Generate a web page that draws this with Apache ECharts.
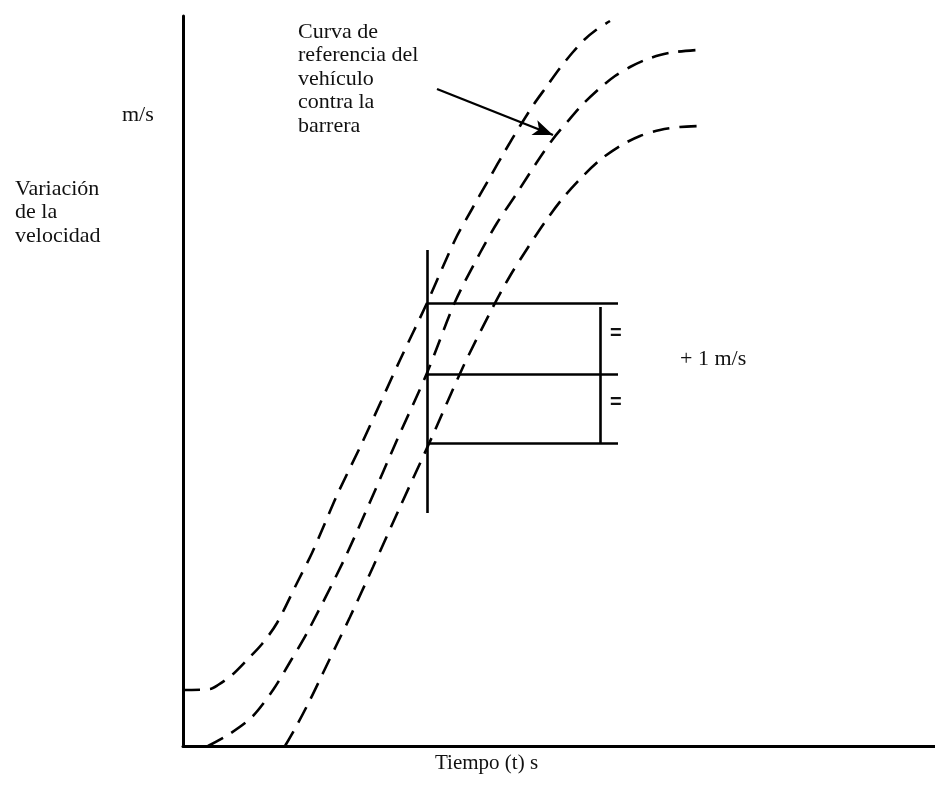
<!DOCTYPE html>
<html>
<head>
<meta charset="utf-8">
<script src="https://cdn.jsdelivr.net/npm/echarts@6/dist/echarts.min.js"></script>
<style>
html,body{margin:0;padding:0;background:#fff;}
#chart{width:935px;height:792px;}
</style>
</head>
<body>
<div id="chart"></div>
<script>
// Schematic axes (arbitrary units)
const X_MAX = 752;
const Y_MAX = 730;

// Upper tolerance curve
const upperX = [0, 27, 35, 49, 64, 79, 94, 114, 129, 142, 155, 179, 217, 244, 272, 289, 306, 322, 337, 351, 364, 377, 390, 401, 413, 427];
const upperY = [56, 57, 61, 71, 86, 102, 123, 163, 193, 223, 253, 303, 386, 443, 506, 537, 567, 595, 620, 642, 660, 678, 694, 706, 716, 725];

// Reference curve (vehicle against the barrier)
const refX = [25, 45, 69, 90, 107, 124, 160, 187, 214, 244, 272, 297, 314, 334, 354, 370, 385, 400, 417, 432, 447, 462, 477, 492, 514];
const refY = [0, 11, 29, 56, 84, 113, 184, 244, 306, 373, 444, 493, 523, 553, 584, 607, 625, 642, 658, 670, 679, 686, 691, 694, 696];

// Lower tolerance curve
const lowerX = [102, 114, 127, 140, 153, 167, 190, 217, 249, 280, 310, 327, 344, 362, 380, 399, 417, 437, 457, 477, 497, 519];
const lowerY = [0, 21, 46, 73, 100, 129, 179, 239, 309, 379, 439, 470, 497, 524, 548, 569, 586, 600, 610, 616, 619, 620];

// Tolerance bracket (+/- 1 m/s) at the check time
const checkTime = 244;
const checkTimeSpan = [233, 496];
const bracketLevels = [443, 372, 303];
const bracketEnd = 435;
const bracketBarX = 417;
const bracketBarSpan = [303, 439];

// Callout arrow to the reference curve
const arrowFrom = [254, 657];
const arrowTo = [370, 611];

// Texts
const yUnit = 'm/s';
const yTitle = ['Variación', 'de la', 'velocidad'];
const xTitle = 'Tiempo (t) s';
const curveNote = ['Curva de', 'referencia del', 'vehículo', 'contra la', 'barrera'];
const tolNote = '+ 1 m/s';

const zip = (xs, ys) => xs.map((x, i) => [x, ys[i]]);
const FONT = '"Liberation Serif", "DejaVu Serif", serif';
const dashStyle = { color: '#000', width: 2.6, type: [17, 10] };

const bracketLines = [];
bracketLines.push([{ coord: [checkTime, checkTimeSpan[0]] }, { coord: [checkTime, checkTimeSpan[1]] }]);
bracketLevels.forEach(l => bracketLines.push([{ coord: [checkTime, l] }, { coord: [bracketEnd, l] }]));
bracketLines.push([{ coord: [bracketBarX, bracketBarSpan[0]] }, { coord: [bracketBarX, bracketBarSpan[1]] }]);

function txt(s, x, y, font) {
  return {
    type: 'text', x: x, y: y, silent: true,
    style: { text: s, font: font || ('22px ' + FONT), fill: '#111', textVerticalAlign: 'middle', textAlign: 'left' }
  };
}
const graphics = [];
graphics.push(txt(yUnit, 122, 115));
[189, 212, 236].forEach((y, i) => graphics.push(txt(yTitle[i], 15, y)));
[32, 55.5, 79, 102.5, 126].forEach((y, i) => graphics.push(txt(curveNote[i], 298, y)));
graphics.push(txt(xTitle, 435, 763, '21px ' + FONT));
graphics.push(txt(tolNote, 680, 359));
graphics.push(txt('=', 610, 333, 'bold 20px "Liberation Sans", Arial, sans-serif'));
graphics.push(txt('=', 610, 402, 'bold 20px "Liberation Sans", Arial, sans-serif'));

const chart = echarts.init(document.getElementById('chart'), null, { renderer: 'canvas' });
chart.setOption({
  animation: false,
  backgroundColor: '#fff',
  grid: { left: 183, right: 0, top: 16, bottom: 46, containLabel: false },
  xAxis: {
    type: 'value', min: 0, max: X_MAX,
    axisLine: { show: true, onZero: false, lineStyle: { color: '#000', width: 3 } },
    axisTick: { show: false }, axisLabel: { show: false }, splitLine: { show: false }
  },
  yAxis: {
    type: 'value', min: 0, max: Y_MAX,
    axisLine: { show: true, onZero: false, lineStyle: { color: '#000', width: 3 } },
    axisTick: { show: false }, axisLabel: { show: false }, splitLine: { show: false }
  },
  series: [
    { type: 'line', data: zip(upperX, upperY), symbol: 'none', smooth: 0.3, lineStyle: dashStyle, silent: true },
    { type: 'line', data: zip(refX, refY), symbol: 'none', smooth: 0.3, lineStyle: dashStyle, silent: true },
    { type: 'line', data: zip(lowerX, lowerY), symbol: 'none', smooth: 0.3, lineStyle: dashStyle, silent: true },
    {
      type: 'line', data: [], silent: true,
      markLine: {
        silent: true, symbol: ['none', 'none'], label: { show: false },
        lineStyle: { color: '#000', width: 2.6, type: 'solid' },
        emphasis: { disabled: true },
        data: bracketLines
      }
    },
    {
      type: 'line', data: [], silent: true,
      markLine: {
        silent: true, symbol: ['none', 'arrow'], symbolSize: [12, 20], label: { show: false },
        lineStyle: { color: '#000', width: 2.4, type: 'solid' },
        emphasis: { disabled: true },
        data: [[{ coord: arrowFrom }, { coord: arrowTo }]]
      }
    }
  ],
  graphic: graphics
});
</script>
</body>
</html>
